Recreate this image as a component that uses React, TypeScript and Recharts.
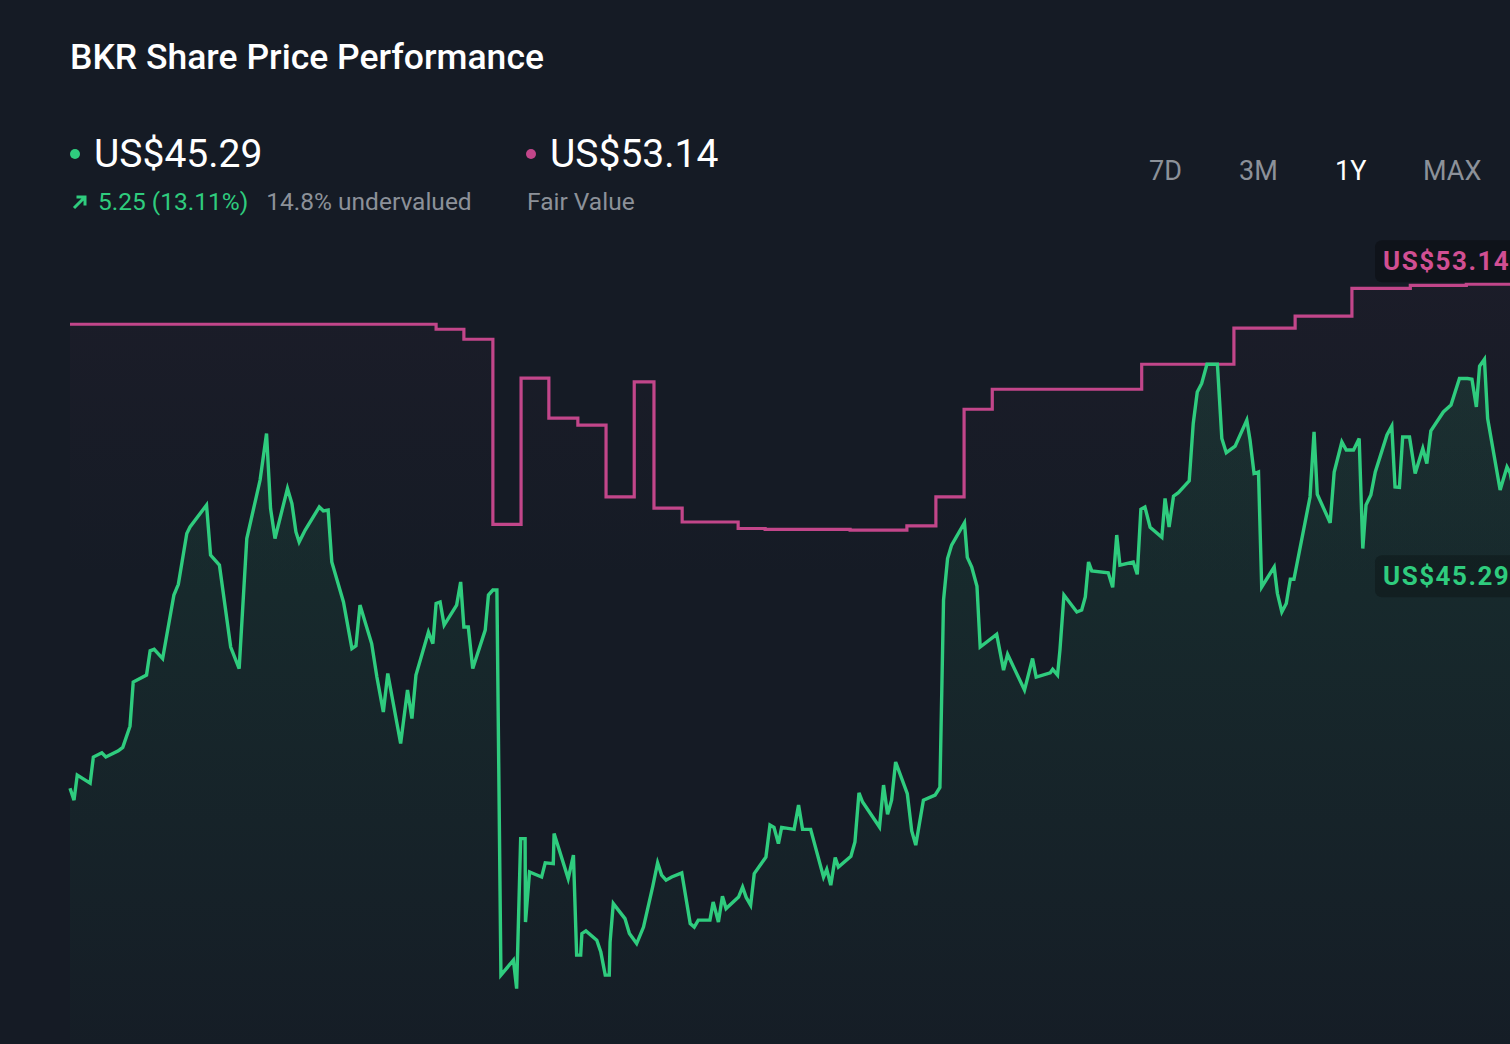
import React from 'react';
import { ComposedChart, Area, XAxis, YAxis, ReferenceLine } from 'recharts';

// day offsets within the 1Y window and closing prices (US$)
const priceDays = [
  0, 1.0, 1.8, 5.0, 5.8, 7.9, 8.9, 12.0, 13.1, 14.9, 15.7, 19.0, 19.9, 20.9, 23.0, 25.8, 26.9, 29.0, 29.8, 33.9,
  34.9, 37.1, 39.9, 42.0, 43.9, 47.2, 48.8, 49.8, 50.9, 54.0, 55.1, 56.1, 56.9, 58.4, 61.9, 62.9, 64.1, 65.0, 67.9, 70.0,
  71.0, 72.0, 74.9, 76.2, 77.8, 78.9, 82.1, 83.8, 84.9, 85.9, 89.0, 90.1, 90.9, 91.9, 92.9, 96.0, 97.0, 97.8, 98.9, 100.0,
  103.1, 103.9, 105.0, 106.0, 107.0, 110.1, 110.9, 111.9, 113.0, 113.1, 114.1, 117.1, 118.0, 120.0, 120.2, 123.7, 125.0, 125.8, 126.8, 127.1,
  128.1, 130.8, 131.8, 132.9, 133.9, 134.1, 134.9, 137.8, 138.9, 140.7, 142.4, 144.7, 145.9, 146.9, 148.0, 149.4, 151.9, 154.0, 155.0, 156.0,
  158.9, 159.7, 161.0, 162.0, 162.9, 166.0, 167.0, 167.9, 169.0, 169.9, 172.8, 173.8, 174.8, 175.9, 176.7, 179.8, 180.9, 181.9, 183.9, 187.1,
  187.9, 188.9, 190.0, 190.8, 193.9, 194.9, 195.9, 196.8, 201.0, 202.0, 203.0, 204.0, 205.0, 207.9, 209.0, 210.0, 211.9, 214.8, 216.0, 216.9,
  217.9, 218.9, 222.1, 222.8, 223.9, 225.2, 226.0, 230.1, 231.8, 232.8, 237.0, 239.0, 239.9, 243.4, 244.0, 245.2, 245.8, 246.8, 250.0, 251.2,
  252.1, 252.9, 253.7, 257.8, 258.9, 259.9, 260.7, 264.0, 265.0, 265.9, 266.9, 268.2, 271.1, 271.9, 272.9, 274.0, 275.2, 277.9, 278.9, 279.9,
  281.0, 282.3, 284.9, 286.0, 287.1, 289.3, 292.2, 293.0, 294.0, 295.1, 295.9, 299.0, 299.8, 300.9, 302.0, 303.0, 303.9, 307.9, 308.9, 309.7,
  312.9, 313.9, 315.8, 316.9, 318.7, 320.1, 321.0, 321.8, 323.0, 324.1, 327.0, 328.2, 329.0, 330.1, 330.9, 332.6, 334.0, 335.9, 336.9, 337.9,
  341.0, 342.9, 345.0, 347.0, 348.1, 349.2, 350.0, 351.2, 352.0, 355.1, 356.8, 357.6, 360.0, 362.5, 365.0,
];
const priceValues = [
  40.04, 39.73, 40.38, 40.17, 40.85, 40.96, 40.85, 41.01, 41.10, 41.65, 42.80, 42.98, 43.61, 43.65, 43.41, 45.06, 45.34, 46.66, 46.83, 47.40,
  46.10, 45.84, 43.71, 43.15, 46.53, 48.05, 49.26, 47.31, 46.53, 47.83, 47.44, 46.70, 46.44, 46.75, 47.35, 47.25, 47.27, 45.92, 44.88, 43.67,
  43.74, 44.80, 43.80, 42.93, 42.02, 43.02, 41.20, 42.59, 41.85, 42.98, 44.10, 43.80, 44.84, 44.88, 44.28, 44.80, 45.40, 44.23, 44.23, 43.15,
  44.15, 45.06, 45.19, 45.19, 35.18, 35.57, 34.83, 38.73, 38.73, 36.56, 37.86, 37.73, 38.10, 38.08, 38.86, 37.69, 38.30, 35.70, 35.70, 36.26,
  36.33, 36.09, 35.78, 35.18, 35.18, 36.04, 37.04, 36.65, 36.26, 36.00, 36.43, 37.49, 38.10, 37.78, 37.65, 37.73, 37.84, 36.52, 36.43, 36.61,
  36.61, 37.08, 36.56, 37.23, 36.91, 37.21, 37.47, 37.20, 37.00, 37.82, 38.25, 39.08, 39.02, 38.60, 39.02, 38.97, 39.60, 38.97, 38.97, 37.73,
  37.93, 37.52, 38.24, 37.99, 38.27, 38.64, 39.92, 39.68, 39.03, 40.12, 39.36, 39.73, 40.72, 39.90, 38.93, 38.56, 39.73, 39.86, 40.06, 44.93,
  46.01, 46.36, 46.94, 46.04, 45.79, 45.29, 43.71, 44.04, 43.11, 43.52, 42.59, 43.41, 42.93, 43.04, 43.13, 42.98, 43.63, 45.06, 44.62, 44.67,
  45.01, 45.92, 45.69, 45.64, 45.26, 46.62, 45.84, 45.92, 45.60, 47.29, 47.35, 46.82, 46.56, 47.57, 46.83, 47.63, 47.72, 48.03, 49.52, 50.34,
  50.56, 51.06, 51.06, 49.13, 48.76, 48.93, 49.61, 49.09, 48.22, 48.26, 45.27, 45.79, 45.10, 44.62, 44.84, 45.47, 45.47, 47.61, 49.30, 47.68,
  46.94, 48.26, 49.04, 48.83, 48.83, 49.13, 46.27, 47.40, 47.66, 48.26, 49.22, 49.45, 47.87, 47.86, 49.17, 49.17, 48.22, 48.87, 48.48, 49.33,
  49.82, 50.00, 50.69, 50.69, 50.67, 49.95, 51.01, 51.19, 49.65, 47.79, 48.39, 48.23, 46.90, 45.90, 45.29,
];

// fair value estimate changes (stepped)
const fairDays = [
  0, 90.9, 97.8, 105.0, 112.0, 118.9, 126.1, 133.1, 140.1, 145.0, 152.0, 165.9, 172.6, 193.7, 207.8, 215.0,
  222.0, 229.0, 266.1, 289.0, 304.2, 318.3, 332.8, 346.7, 365.0,
];
const fairValues = [
  52.10, 51.97, 51.71, 46.90, 50.70, 49.66, 49.48, 47.61, 50.60, 47.32, 46.96, 46.79, 46.77, 46.75, 46.86, 47.61,
  49.89, 50.41, 51.06, 52.00, 52.31, 53.03, 53.11, 53.14, 53.14,
];

const lastPrice = 45.29;
const fairValue = 53.14;
const ranges = ['7D', '3M', '1Y', 'MAX'];

const priceData = priceDays.map((d, i) => ({ day: d, price: priceValues[i] }));
const fairData = fairDays.map((d, i) => ({ day: d, fair: fairValues[i] }));

const GREEN = '#2fcc7e';
const PINK = '#c2468a';
const GREY = '#8c9199';
const BG = '#151b25';
const FONT = 'Roboto, "Noto Sans", sans-serif';

const Tag = ({ viewBox, text, color, box, dy }: any) => {
  if (!viewBox) return null;
  const x = viewBox.x + viewBox.width - 165;
  const y = viewBox.y + dy;
  return (
    <g>
      <rect x={x} y={y - 21} width={180} height={42} rx={7} fill={box} />
      <text x={x + 8} y={y + 9} fill={color} fontSize={26} fontWeight={700} letterSpacing={1.5} fontFamily={FONT}>
        {text}
      </text>
    </g>
  );
};

export default function App() {
  return (
    <div style={{ position: 'fixed', left: 0, top: 0, width: 1510, height: 1044, background: BG, overflow: 'hidden', fontFamily: FONT }}>
      <div style={{ position: 'absolute', left: 0, top: 0 }}>
        <ComposedChart width={1560} height={1044} margin={{ top: 240, right: 20, bottom: 0, left: 70 }}>
          <defs>
            <linearGradient id="priceFill" x1="0" y1="0" x2="0" y2="1">
              <stop offset="0%" stopColor={GREEN} stopOpacity={0.19} />
              <stop offset="100%" stopColor={GREEN} stopOpacity={0.02} />
            </linearGradient>
            <linearGradient id="fairFill" x1="0" y1="0" x2="0" y2="1">
              <stop offset="0%" stopColor={PINK} stopOpacity={0.06} />
              <stop offset="40%" stopColor={PINK} stopOpacity={0} />
            </linearGradient>
          </defs>
          <XAxis dataKey="day" type="number" domain={[0, 365]} hide allowDuplicatedCategory={false} />
          <YAxis type="number" domain={[33.39, 54.29]} hide />
          <Area
            data={fairData}
            dataKey="fair"
            type="stepAfter"
            stroke={PINK}
            strokeWidth={3.2}
            fill="url(#fairFill)"
            dot={false}
            activeDot={false}
            isAnimationActive={false}
          />
          <Area
            data={priceData}
            dataKey="price"
            type="linear"
            stroke={GREEN}
            strokeWidth={3.4}
            fill="url(#priceFill)"
            dot={false}
            activeDot={false}
            isAnimationActive={false}
          />
          <ReferenceLine
            y={fairValue}
            stroke="none"
            ifOverflow="visible"
            label={(p: any) => <Tag {...p} text={`US$${fairValue.toFixed(2)}`} color="#d14f93" box="rgba(8,10,14,0.45)" dy={-23} />}
          />
          <ReferenceLine
            y={lastPrice}
            stroke="none"
            ifOverflow="visible"
            label={(p: any) => <Tag {...p} text={`US$${lastPrice.toFixed(2)}`} color={GREEN} box="rgba(8,14,14,0.35)" dy={-10} />}
          />
        </ComposedChart>
      </div>

      <div style={{ position: 'absolute', left: 70, top: 40, fontSize: 35.5, lineHeight: '35.5px', fontWeight: 500, color: '#ffffff', whiteSpace: 'nowrap' }}>
        BKR Share Price Performance
      </div>

      <div style={{ position: 'absolute', left: 70, top: 149, width: 10, height: 10, borderRadius: 5, background: GREEN }} />
      <div style={{ position: 'absolute', left: 94, top: 135, fontSize: 39, lineHeight: '39px', color: '#ffffff', whiteSpace: 'nowrap' }}>
        US${lastPrice.toFixed(2)}
      </div>
      <div style={{ position: 'absolute', left: 72, top: 190, display: 'flex', alignItems: 'center', fontSize: 24.5, lineHeight: '24.5px', whiteSpace: 'nowrap' }}>
        <svg width={16} height={16} viewBox="0 0 16 16" style={{ marginRight: 10 }}>
          <path d="M2 14 L13 3 M4.5 3 L13 3 L13 11.5" stroke={GREEN} strokeWidth={3} fill="none" />
        </svg>
        <span style={{ color: GREEN }}>5.25 (13.11%)</span>
        <span style={{ color: GREY, marginLeft: 18 }}>14.8% undervalued</span>
      </div>

      <div style={{ position: 'absolute', left: 526, top: 149, width: 10, height: 10, borderRadius: 5, background: PINK }} />
      <div style={{ position: 'absolute', left: 550, top: 135, fontSize: 39, lineHeight: '39px', color: '#ffffff', whiteSpace: 'nowrap' }}>
        US${fairValue.toFixed(2)}
      </div>
      <div style={{ position: 'absolute', left: 527, top: 190, fontSize: 24.5, lineHeight: '24.5px', color: GREY, whiteSpace: 'nowrap' }}>
        Fair Value
      </div>

      {ranges.map((r, i) => (
        <div
          key={r}
          style={{
            position: 'absolute',
            left: [1149, 1239, 1335, 1423][i],
            top: 158,
            fontSize: 27,
            lineHeight: '27px',
            color: r === '1Y' ? '#ffffff' : GREY,
            whiteSpace: 'nowrap',
          }}
        >
          {r}
        </div>
      ))}
    </div>
  );
}
